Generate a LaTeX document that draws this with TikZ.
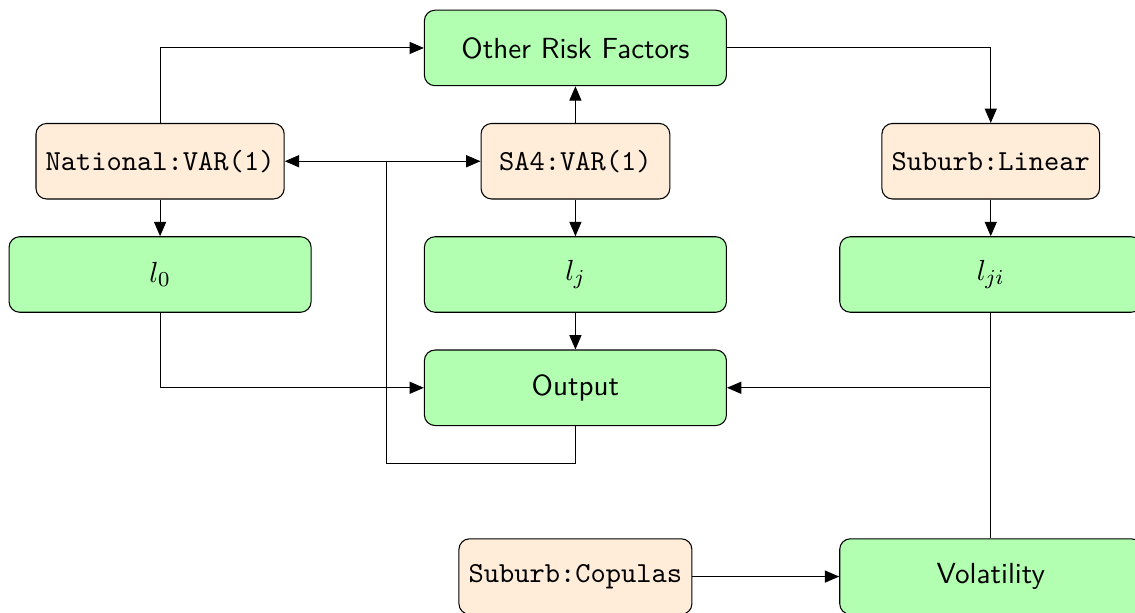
\documentclass[tikz,border=0pt,11pt]{standalone}
\usepackage{amsmath}
\usepackage{tikz}
\usetikzlibrary{arrows.meta}

\begin{document}
\begin{tikzpicture}[>={Triangle[length=1.9mm,width=1.6mm]}]
\tikzstyle{model}=[draw, rounded corners, fill=orange!15, font=\ttfamily, minimum width=2.5cm, minimum height=1cm]
\tikzstyle{block}=[draw, rounded corners, fill=green!30, font=\sffamily, minimum width=4cm, minimum height=1cm]
\useasboundingbox (-2.12,-7.47) rectangle (12.91,0.635);
\node[block] (other) at (5.5,0) {Other Risk Factors};
\node[model] (nat) at (0,-1.5) {National:VAR(1)};
\node[model] (sa4) at (5.5,-1.5) {SA4:VAR(1)};
\node[model] (lin) at (11,-1.5) {Suburb:Linear};
\node[block] (l0) at (0,-3) {$l_0$};
\node[block] (lj) at (5.5,-3) {$l_j$};
\node[block] (lji) at (11,-3) {$l_{ji}$};
\node[block] (out) at (5.5,-4.5) {Output};
\node[model] (cop) at (5.5,-7) {Suburb:Copulas};
\node[block] (vol) at (11,-7) {Volatility};
\coordinate (fb) at (3,-1.5);
\draw[->] (nat.north) |- (other.west);
\draw[->] (other.east) -| (lin.north);
\draw[->] (sa4.north) -- (other.south);
\draw[->] (fb) -- (nat.east);
\draw[->] (fb) -- (sa4.west);
\draw (out.south) -- ++(0,-0.5) -| (fb);
\draw[->] (nat.south) -- (l0.north);
\draw[->] (sa4.south) -- (lj.north);
\draw[->] (lin.south) -- (lji.north);
\draw[->] (l0.south) |- (out.west);
\draw[->] (lj.south) -- (out.north);
\draw (lji.south) -- (vol.north);
\draw[->] (vol.north) |- (out.east);
\draw[->] (cop.east) -- (vol.west);
\end{tikzpicture}
\end{document}
